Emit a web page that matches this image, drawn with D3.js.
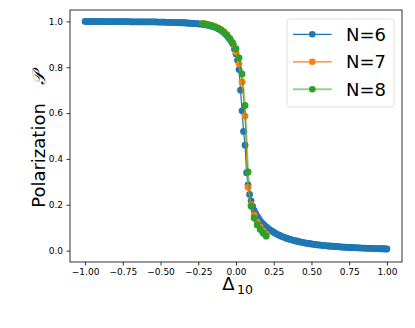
<!DOCTYPE html>
<html>
<head>
<meta charset="utf-8">
<script src="https://cdn.jsdelivr.net/npm/d3@7"></script>
<style>
  body { margin: 0; background: #fff; }
  text { font-family: "DejaVu Sans", sans-serif; }
</style>
</head>
<body>
<div id="chart"></div>
<script>
// N=6 sampled over the full range
var x6 = [-1.00, -0.99, -0.98, -0.97, -0.96, -0.95, -0.94, -0.93, -0.92, -0.91,
          -0.90, -0.89, -0.88, -0.87, -0.86, -0.85, -0.84, -0.83, -0.82, -0.81,
          -0.80, -0.79, -0.78, -0.77, -0.76, -0.75, -0.74, -0.73, -0.72, -0.71,
          -0.70, -0.69, -0.68, -0.67, -0.66, -0.65, -0.64, -0.63, -0.62, -0.61,
          -0.60, -0.59, -0.58, -0.57, -0.56, -0.55, -0.54, -0.53, -0.52, -0.51,
          -0.50, -0.49, -0.48, -0.47, -0.46, -0.45, -0.44, -0.43, -0.42, -0.41,
          -0.40, -0.39, -0.38, -0.37, -0.36, -0.35, -0.34, -0.33, -0.32, -0.31,
          -0.30, -0.29, -0.28, -0.27, -0.26, -0.25, -0.24, -0.23, -0.22, -0.21,
          -0.20, -0.19, -0.18, -0.17, -0.16, -0.15, -0.14, -0.13, -0.12, -0.11,
          -0.10, -0.09, -0.08, -0.07, -0.06, -0.05, -0.04, -0.03, -0.02, -0.01,
           0.00,  0.01,  0.02,  0.03,  0.04,  0.05,  0.06,  0.07,  0.08,  0.09,
           0.10,  0.11,  0.12,  0.13,  0.14,  0.15,  0.16,  0.17,  0.18,  0.19,
           0.20,  0.21,  0.22,  0.23,  0.24,  0.25,  0.26,  0.27,  0.28,  0.29,
           0.30,  0.31,  0.32,  0.33,  0.34,  0.35,  0.36,  0.37,  0.38,  0.39,
           0.40,  0.41,  0.42,  0.43,  0.44,  0.45,  0.46,  0.47,  0.48,  0.49,
           0.50,  0.51,  0.52,  0.53,  0.54,  0.55,  0.56,  0.57,  0.58,  0.59,
           0.60,  0.61,  0.62,  0.63,  0.64,  0.65,  0.66,  0.67,  0.68,  0.69,
           0.70,  0.71,  0.72,  0.73,  0.74,  0.75,  0.76,  0.77,  0.78,  0.79,
           0.80,  0.81,  0.82,  0.83,  0.84,  0.85,  0.86,  0.87,  0.88,  0.89,
           0.90,  0.91,  0.92,  0.93,  0.94,  0.95,  0.96,  0.97,  0.98,  0.99,
           1.00];
var p6 = [1.000, 1.000, 1.000, 1.000, 1.000, 1.000, 1.000, 1.000, 1.000, 1.000,
          0.999, 0.999, 0.999, 0.999, 0.999, 0.999, 0.999, 0.999, 0.999, 0.999,
          0.999, 0.999, 0.999, 0.999, 0.999, 0.999, 0.999, 0.999, 0.999, 0.999,
          0.998, 0.998, 0.998, 0.998, 0.998, 0.998, 0.998, 0.998, 0.998, 0.998,
          0.998, 0.998, 0.998, 0.998, 0.998, 0.998, 0.998, 0.998, 0.997, 0.997,
          0.997, 0.997, 0.997, 0.997, 0.996, 0.996, 0.996, 0.996, 0.996, 0.995,
          0.995, 0.995, 0.995, 0.994, 0.994, 0.994, 0.994, 0.993, 0.993, 0.992,
          0.992, 0.991, 0.991, 0.990, 0.990, 0.989, 0.989, 0.988, 0.987, 0.986,
          0.985, 0.984, 0.982, 0.981, 0.979, 0.977, 0.975, 0.972, 0.969, 0.966,
          0.962, 0.957, 0.952, 0.945, 0.938, 0.930, 0.922, 0.912, 0.900, 0.878,
          0.858, 0.830, 0.790, 0.700, 0.610, 0.520, 0.460, 0.340, 0.287, 0.245,
          0.217, 0.194, 0.175, 0.162, 0.150, 0.140, 0.130, 0.122, 0.115, 0.109,
          0.103, 0.098, 0.093, 0.088, 0.084, 0.080, 0.076, 0.072, 0.069, 0.066,
          0.063, 0.060, 0.058, 0.055, 0.053, 0.051, 0.049, 0.047, 0.045, 0.043,
          0.042, 0.040, 0.039, 0.037, 0.036, 0.035, 0.033, 0.032, 0.031, 0.030,
          0.029, 0.028, 0.027, 0.026, 0.025, 0.025, 0.024, 0.023, 0.022, 0.022,
          0.021, 0.020, 0.020, 0.019, 0.019, 0.018, 0.018, 0.017, 0.017, 0.016,
          0.016, 0.015, 0.015, 0.015, 0.014, 0.014, 0.014, 0.013, 0.013, 0.013,
          0.012, 0.012, 0.012, 0.011, 0.011, 0.011, 0.011, 0.010, 0.010, 0.010,
          0.010, 0.009, 0.009, 0.009, 0.009, 0.008, 0.008, 0.008, 0.008, 0.007,
          0.007];

// N=7 and N=8 only around the transition
var x78 = [-0.22, -0.20, -0.18, -0.16, -0.14, -0.12, -0.10, -0.08, -0.06, -0.04, -0.02,
            0.00,  0.02,  0.04,  0.06,  0.08,  0.10,  0.12,  0.14,  0.16,  0.18,  0.20];
var p7 = [0.991, 0.989, 0.986, 0.982, 0.978, 0.972, 0.965, 0.955, 0.942, 0.925, 0.900,
          0.866, 0.815, 0.736, 0.587, 0.276, 0.200, 0.155, 0.125, 0.103, 0.086, 0.072];
var p8 = [0.990, 0.988, 0.985, 0.981, 0.976, 0.970, 0.962, 0.952, 0.939, 0.923, 0.905,
          0.881, 0.841, 0.771, 0.633, 0.343, 0.193, 0.142, 0.112, 0.092, 0.076, 0.063];

var seriesNames = ['N=6', 'N=7', 'N=8'];
var xTicks = [-1.00, -0.75, -0.50, -0.25, 0.00, 0.25, 0.50, 0.75, 1.00];
var yTicks = [0.0, 0.2, 0.4, 0.6, 0.8, 1.0];

var colors = ['#1f77b4', '#ff7f0e', '#2ca02c'];
var lineStyle = [{w: 1.2, o: 1}, {w: 1.2, o: 1}, {w: 2, o: 0.5}];

var series = [
    x6.map(function(d, i) { return [d, p6[i]]; }),
    x78.map(function(d, i) { return [d, p7[i]]; }),
    x78.map(function(d, i) { return [d, p8[i]]; })
];

var W = 415, H = 328;
var m = {t: 10, r: 13, b: 66, l: 70};
var w = W - m.l - m.r, h = H - m.t - m.b;

var svg = d3.select('#chart').append('svg')
    .attr('width', W).attr('height', H);
svg.append('rect').attr('width', W).attr('height', H).attr('fill', '#fff');

var g = svg.append('g').attr('transform', 'translate(' + m.l + ',' + m.t + ')');

var x = d3.scaleLinear().domain([-1.1, 1.1]).range([0, w]);
var y = d3.scaleLinear().domain([-0.0497, 1.0497]).range([h, 0]);

// axes
var xAxis = g.append('g').attr('transform', 'translate(0,' + h + ')')
    .call(d3.axisBottom(x).tickValues(xTicks).tickFormat(d3.format('.2f'))
        .tickSize(3.5).tickPadding(3.5));
var yAxis = g.append('g')
    .call(d3.axisLeft(y).tickValues(yTicks).tickFormat(d3.format('.1f'))
        .tickSize(3.5).tickPadding(3.5));
[xAxis, yAxis].forEach(function(a) {
    a.select('.domain').remove();
    a.selectAll('line').attr('stroke', '#000').attr('stroke-width', 0.8);
    a.selectAll('text').attr('font-size', 9).attr('fill', '#000')
        .attr('font-family', '"DejaVu Sans", sans-serif');
});

// series: line then markers, in order
var line = d3.line().x(function(d) { return x(d[0]); }).y(function(d) { return y(d[1]); });
series.forEach(function(s, k) {
    var sg = g.append('g');
    sg.append('path').datum(s).attr('d', line)
        .attr('fill', 'none').attr('stroke', colors[k])
        .attr('stroke-width', lineStyle[k].w).attr('stroke-opacity', lineStyle[k].o);
    sg.selectAll('circle').data(s).enter().append('circle')
        .attr('cx', function(d) { return x(d[0]); })
        .attr('cy', function(d) { return y(d[1]); })
        .attr('r', 3.4).attr('fill', colors[k]);
});

// frame
g.append('rect').attr('width', w).attr('height', h)
    .attr('fill', 'none').attr('stroke', '#000').attr('stroke-width', 0.8);

// axis labels: delta with subscript as two pieces
svg.append('text').attr('x', 234.5).attr('y', 290)
    .attr('text-anchor', 'end').attr('font-size', 18).text('Δ');
svg.append('text').attr('x', 237).attr('y', 293.5)
    .attr('text-anchor', 'start').attr('font-size', 12.5).text('10');

var yl = svg.append('text')
    .attr('transform', 'translate(45,' + (m.t + h / 2 + 4) + ') rotate(-90)')
    .attr('text-anchor', 'middle').attr('font-size', 18);
yl.append('tspan').text('Polarization\u2002\u2002');
yl.append('tspan').attr('font-family', '"DejaVu Serif", serif')
    .attr('font-style', 'italic').text('𝒫');

// legend
var lg = svg.append('g').attr('transform', 'translate(287,19)');
lg.append('rect').attr('width', 107).attr('height', 88).attr('rx', 3)
    .attr('fill', '#fff').attr('fill-opacity', 0.8)
    .attr('stroke', '#d9d9d9').attr('stroke-width', 0.8);
seriesNames.forEach(function(name, k) {
    var cy = 15.3 + k * 27.5;
    lg.append('line').attr('x1', 6).attr('x2', 44.7).attr('y1', cy).attr('y2', cy)
        .attr('stroke', colors[k]).attr('stroke-width', lineStyle[k].w)
        .attr('stroke-opacity', lineStyle[k].o);
    lg.append('circle').attr('cx', 25.3).attr('cy', cy).attr('r', 3.3).attr('fill', colors[k]);
    lg.append('text').attr('x', 59).attr('y', cy).attr('dy', '0.36em')
        .attr('font-size', 18).attr('fill', '#000').text(name);
});
</script>
</body>
</html>
